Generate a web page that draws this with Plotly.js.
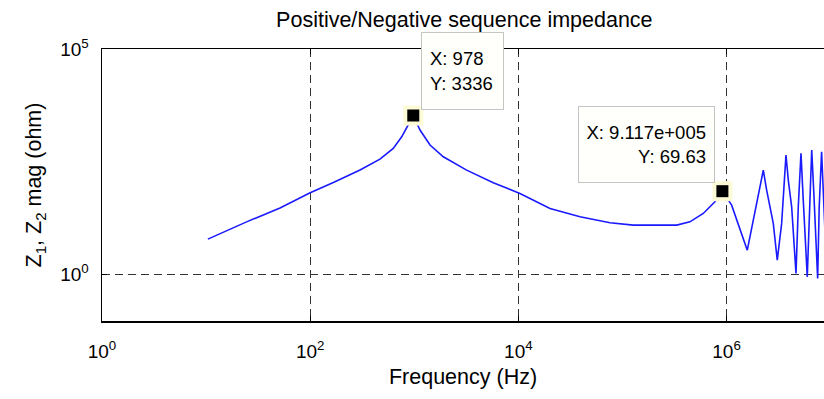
<!DOCTYPE html>
<html>
<head>
<meta charset="utf-8">
<script src="https://cdn.plot.ly/plotly-3.0.1.min.js"></script>
<style>html,body{margin:0;padding:0;background:#fff;}#chart{width:824px;height:399px;}</style>
</head>
<body>
<div id="chart"></div>
<script>
// Frequency (Hz) and impedance magnitude (ohm)
var freq = [10.4, 24.5, 51.3, 100, 167, 301, 468, 628, 757, 832, 978,
  1135, 1416, 1900, 2748, 3184, 5741, 10350, 20130, 39080, 75860,
  127000, 331900, 444600, 597000, 772700, 911700,
  1.119e6, 1.581e6, 1.875e6, 2.254e6, 2.427e6, 2.810e6, 3.069e6, 3.382e6,
  3.722e6, 3.917e6, 4.220e6, 4.645e6, 4.886e6, 5.186e6, 5.456e6, 5.960e6,
  6.324e6, 6.577e6, 6.918e6, 7.499e6, 7.762e6, 8.185e6, 8.81e6];
var mag = [6.0, 14.5, 29.5, 64, 109, 205, 359, 621, 1125, 1729, 3336,
  1585, 736, 404, 255, 204.6, 107, 62.1, 28.8, 18.8, 13.8,
  12.3, 12.3, 14.5, 22.3, 40.5, 69.63,
  34.1, 3.41, 26.4, 204.6, 73.6, 13.4, 2.05, 13.4,
  441, 122.7, 31.3, 1.04, 31.3, 481, 44.1, 0.87,
  44.1, 570, 52.2, 0.80, 31.3, 522, 9.5];

// Data tips
var tipX = [978, 911700];
var tipY = [3336, 69.63];
var tipXLabel = ["978", "9.117e+005"];
var tipYLabel = ["3336", "69.63"];

// Tick labels
var xTickVals = [1, 100, 1e4, 1e6];
var xTickText = ["10<sup>0</sup>", "10<sup>2</sup>", "10<sup>4</sup>", "10<sup>6</sup>"];
var yTickVals = [1, 1e5];
var yTickText = ["10<sup>0</sup>", "10<sup>5</sup>"];

var FONT = "Liberation Sans, Arial, Helvetica, sans-serif";

var traces = [
  {x: freq, y: mag, mode: "lines", type: "scatter",
   line: {color: "#1a1aff", width: 1.6}, hoverinfo: "skip"},
  {x: tipX, y: tipY, mode: "markers", type: "scatter",
   marker: {symbol: "square", size: 20, color: "#fdfad6"}, hoverinfo: "skip"},
  {x: tipX, y: tipY, mode: "markers", type: "scatter",
   marker: {symbol: "square", size: 12, color: "#000"}, hoverinfo: "skip"}
];

var annotations = [
  {x: Math.log10(tipX[0]), y: Math.log10(tipY[0]), xref: "x", yref: "y",
   text: "X: " + tipXLabel[0] + "<br>Y: " + tipYLabel[0],
   showarrow: false, xanchor: "left", yanchor: "top", xshift: 8, yshift: 84,
   align: "left", width: 65, height: 60, borderpad: 8,
   bgcolor: "#fffffb", bordercolor: "#c4c4c4", borderwidth: 1,
   font: {family: FONT, size: 18.5, color: "#000"}},
  {x: Math.log10(tipX[1]), y: Math.log10(tipY[1]), xref: "x", yref: "y",
   text: "X: " + tipXLabel[1] + "<br>Y: " + tipYLabel[1],
   showarrow: false, xanchor: "right", yanchor: "bottom", xshift: -7, yshift: 8,
   align: "right", width: 119, height: 59, borderpad: 8,
   bgcolor: "#fffffb", bordercolor: "#c4c4c4", borderwidth: 1,
   font: {family: FONT, size: 18.5, color: "#000"}}
];

var layout = {
  width: 824, height: 399,
  margin: {l: 102, r: 0, t: 49, b: 78, pad: 0},
  paper_bgcolor: "#fff", plot_bgcolor: "#fff",
  showlegend: false,
  font: {family: FONT, size: 18, color: "#000"},
  title: {text: "Positive/Negative sequence impedance",
          font: {family: FONT, size: 21.5, color: "#000"},
          x: 0.5635, xanchor: "center", y: 0.952, yanchor: "middle", yref: "container"},
  xaxis: {
    type: "log", range: [0, 6.936],
    tickvals: xTickVals, ticktext: xTickText,
    ticks: "inside", ticklen: 5, tickcolor: "#000", tickwidth: 1,
    showline: true, linecolor: "#000", linewidth: 1.5, mirror: "ticks",
    showgrid: true, gridcolor: "#333", gridwidth: 1.2, griddash: "8px,5px",
    zeroline: false,
    tickfont: {family: FONT, size: 19, color: "#000"},
    ticklabelstandoff: 13,
    title: {text: "Frequency (Hz)", font: {family: FONT, size: 21.5, color: "#000"}, standoff: 7}
  },
  yaxis: {
    type: "log", range: [-1.04, 5],
    tickvals: yTickVals, ticktext: yTickText,
    ticks: "inside", ticklen: 5, tickcolor: "#000", tickwidth: 1,
    showline: true, linecolor: "#000", linewidth: 1.5, mirror: false,
    showgrid: true, gridcolor: "#333", gridwidth: 1.2, griddash: "8px,5px",
    zeroline: false,
    tickfont: {family: FONT, size: 19, color: "#000"},
    ticklabelstandoff: 8,
    title: {text: "Z<sub>1</sub>, Z<sub>2</sub> mag (ohm)", font: {family: FONT, size: 21.5, color: "#000"}, standoff: 12}
  },
  annotations: annotations
};

Plotly.newPlot("chart", traces, layout, {staticPlot: true, displayModeBar: false});
</script>
</body>
</html>
